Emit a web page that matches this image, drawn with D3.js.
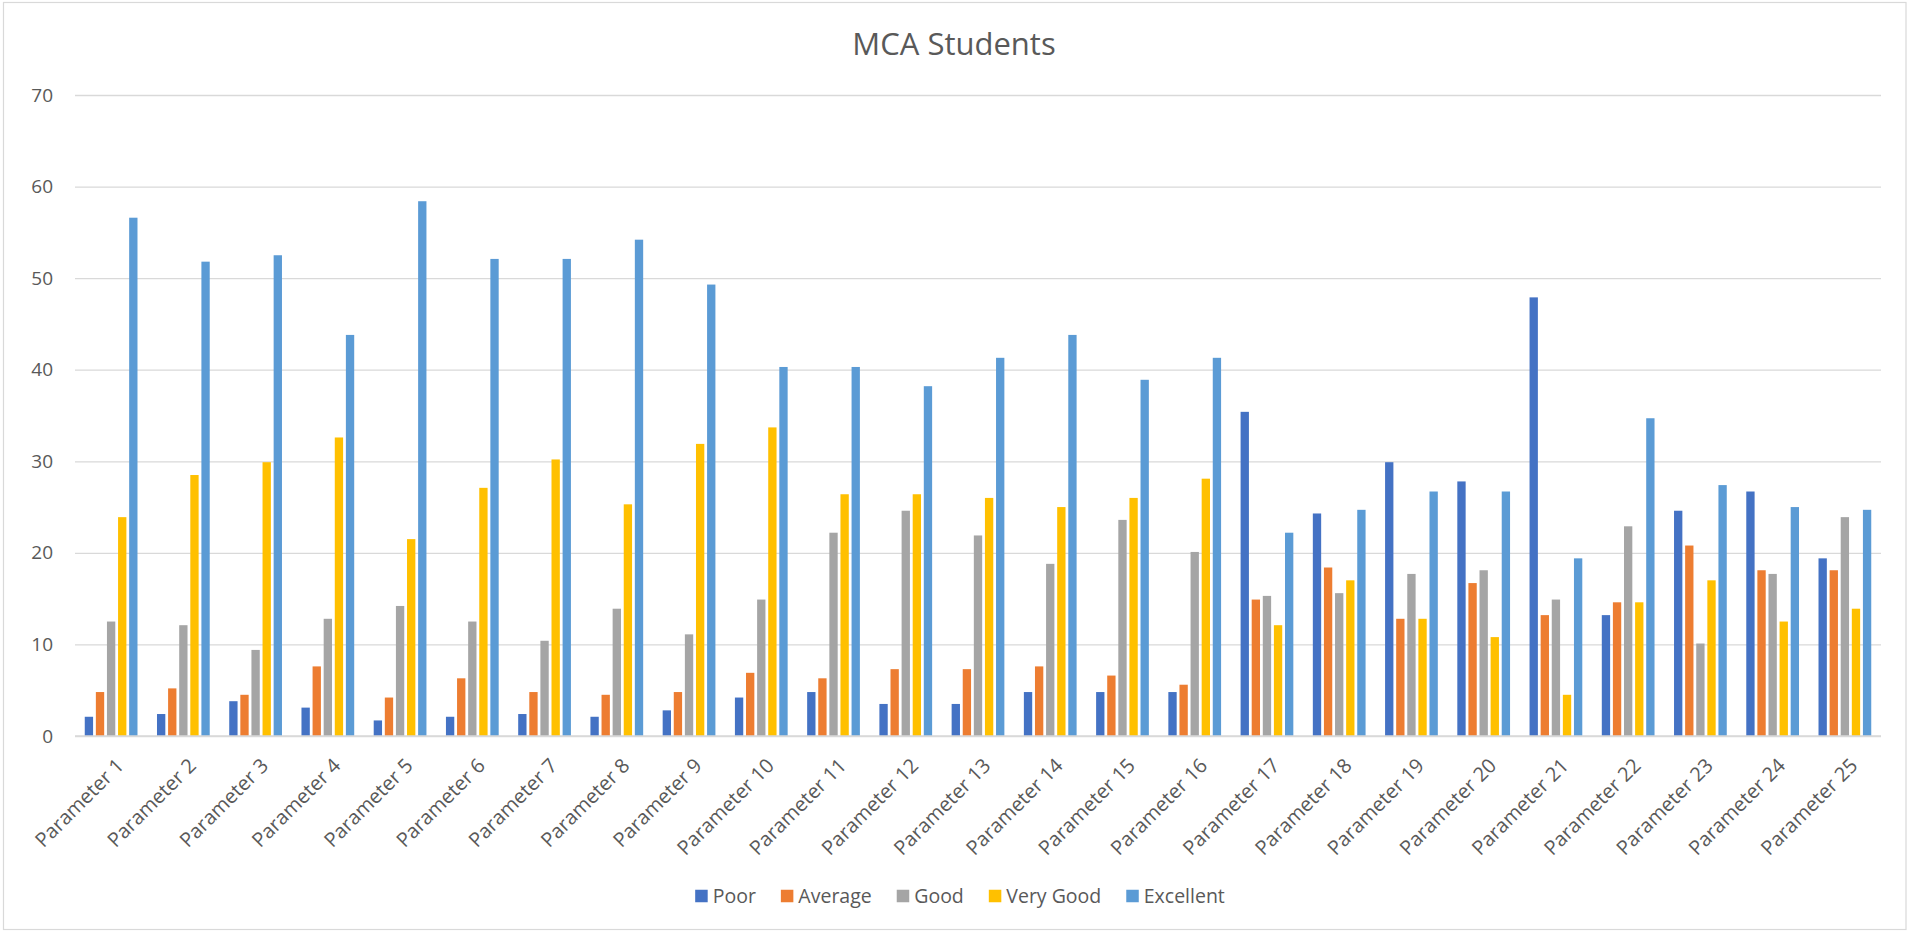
<!DOCTYPE html>
<html>
<head>
<meta charset="utf-8">
<script src="https://cdn.jsdelivr.net/npm/d3@7"></script>
<style>
  html, body { margin: 0; padding: 0; background: #fff; }
  svg text { font-family: "Open Sans", "Noto Sans", sans-serif; fill: #595959; }
</style>
</head>
<body>
<svg id="chart" width="1908" height="931"></svg>
<script>
// Category labels
const categories = [
  "Parameter 1", "Parameter 2", "Parameter 3", "Parameter 4", "Parameter 5",
  "Parameter 6", "Parameter 7", "Parameter 8", "Parameter 9", "Parameter 10",
  "Parameter 11", "Parameter 12", "Parameter 13", "Parameter 14", "Parameter 15",
  "Parameter 16", "Parameter 17", "Parameter 18", "Parameter 19", "Parameter 20",
  "Parameter 21", "Parameter 22", "Parameter 23", "Parameter 24", "Parameter 25"
];

// Rating series (one value per parameter)
const poor      = [2.1, 2.4, 3.8, 3.1, 1.7, 2.1, 2.4, 2.1, 2.8, 4.2, 4.8, 3.5, 3.5, 4.8, 4.8, 4.8, 35.4, 24.3, 29.9, 27.8, 47.9, 13.2, 24.6, 26.7, 19.4];
const average   = [4.8, 5.2, 4.5, 7.6, 4.2, 6.3, 4.8, 4.5, 4.8, 6.9, 6.3, 7.3, 7.3, 7.6, 6.6, 5.6, 14.9, 18.4, 12.8, 16.7, 13.2, 14.6, 20.8, 18.1, 18.1];
const good      = [12.5, 12.1, 9.4, 12.8, 14.2, 12.5, 10.4, 13.9, 11.1, 14.9, 22.2, 24.6, 21.9, 18.8, 23.6, 20.1, 15.3, 15.6, 17.7, 18.1, 14.9, 22.9, 10.1, 17.7, 23.9];
const veryGood  = [23.9, 28.5, 29.9, 32.6, 21.5, 27.1, 30.2, 25.3, 31.9, 33.7, 26.4, 26.4, 26.0, 25.0, 26.0, 28.1, 12.1, 17.0, 12.8, 10.8, 4.5, 14.6, 17.0, 12.5, 13.9];
const excellent = [56.6, 51.8, 52.5, 43.8, 58.4, 52.1, 52.1, 54.2, 49.3, 40.3, 40.3, 38.2, 41.3, 43.8, 38.9, 41.3, 22.2, 24.7, 26.7, 26.7, 19.4, 34.7, 27.4, 25.0, 24.7];

const seriesNames = ["Poor", "Average", "Good", "Very Good", "Excellent"];
const seriesValues = [poor, average, good, veryGood, excellent];
const seriesColors = ["#4472C4", "#ED7D31", "#A5A5A5", "#FFC000", "#5B9BD5"];

// Y axis ticks
const yTicks = [0, 10, 20, 30, 40, 50, 60, 70];

const W = 1908, H = 931;
const plot = { left: 75, right: 1881, top: 95, bottom: 736 };

const svg = d3.select("#chart");

// Chart frame
svg.append("rect")
  .attr("x", 3.5).attr("y", 2.5)
  .attr("width", W - 5.5).attr("height", H - 4)
  .attr("fill", "#fff")
  .attr("stroke", "#d9d9d9")
  .attr("stroke-width", 1.2);

const x = d3.scaleBand()
  .domain(categories)
  .range([plot.left, plot.right])
  .paddingInner(0.27)
  .paddingOuter(0.135);

const xs = d3.scaleBand()
  .domain(seriesNames)
  .range([0, x.bandwidth()])
  .paddingInner(0.25);

const y = d3.scaleLinear()
  .domain([0, 70])
  .range([plot.bottom, plot.top]);

// Horizontal gridlines and value labels
const yAxis = d3.axisLeft(y)
  .tickValues(yTicks)
  .tickSize(-(plot.right - plot.left))
  .tickPadding(22);

const gy = svg.append("g")
  .attr("transform", `translate(${plot.left},0)`)
  .call(yAxis);
gy.select(".domain").remove();
gy.selectAll(".tick line")
  .attr("stroke", "#d9d9d9")
  .attr("stroke-width", 1.3);
gy.selectAll(".tick text")
  .style("font-size", "19px")
  .attr("fill", "#595959");

// Bars
const rows = categories.map((c, i) => ({
  cat: c,
  vals: seriesNames.map((s, k) => ({ name: s, value: seriesValues[k][i], color: seriesColors[k] }))
}));

const groups = svg.append("g").selectAll("g")
  .data(rows)
  .join("g")
  .attr("transform", d => `translate(${x(d.cat)},0)`);

groups.selectAll("rect")
  .data(d => d.vals)
  .join("rect")
  .attr("x", d => xs(d.name))
  .attr("y", d => y(d.value))
  .attr("width", xs.bandwidth())
  .attr("height", d => y(0) - y(d.value))
  .attr("fill", d => d.color);

// Category axis
const xAxis = d3.axisBottom(x).tickSize(0).tickPadding(0);
const gx = svg.append("g")
  .attr("transform", `translate(0,${plot.bottom})`)
  .call(xAxis);
gx.select(".domain")
  .attr("stroke", "#d9d9d9")
  .attr("stroke-width", 1.3)
  .attr("d", `M${plot.left},0H${plot.right}`);
gx.selectAll(".tick text")
  .style("font-size", "20px")
  .attr("fill", "#595959")
  .attr("text-anchor", "end")
  .attr("dy", "0.35em")
  .attr("y", 0)
  .attr("transform", "translate(9,26) rotate(-45)");

// Title
svg.append("text")
  .attr("x", 954)
  .attr("y", 55)
  .attr("text-anchor", "middle")
  .style("font-size", "31px")
  .attr("fill", "#595959")
  .text("MCA Students");

// Legend
const legend = svg.append("g");
const swatch = 12.5, swGap = 5, itemGap = 25;
let cursor = 0;
seriesNames.forEach((name, k) => {
  const item = legend.append("g").attr("transform", `translate(${cursor},0)`);
  item.append("rect")
    .attr("x", 0).attr("y", -swatch / 2)
    .attr("width", swatch).attr("height", swatch)
    .attr("fill", seriesColors[k]);
  const t = item.append("text")
    .attr("x", swatch + swGap)
    .attr("y", 0)
    .attr("dy", "0.35em")
    .style("font-size", "19.5px")
    .attr("fill", "#595959")
    .text(name);
  cursor += swatch + swGap + t.node().getComputedTextLength() + itemGap;
});
const legendWidth = cursor - itemGap;
legend.attr("transform", `translate(${960 - legendWidth / 2},896)`);
</script>
</body>
</html>
